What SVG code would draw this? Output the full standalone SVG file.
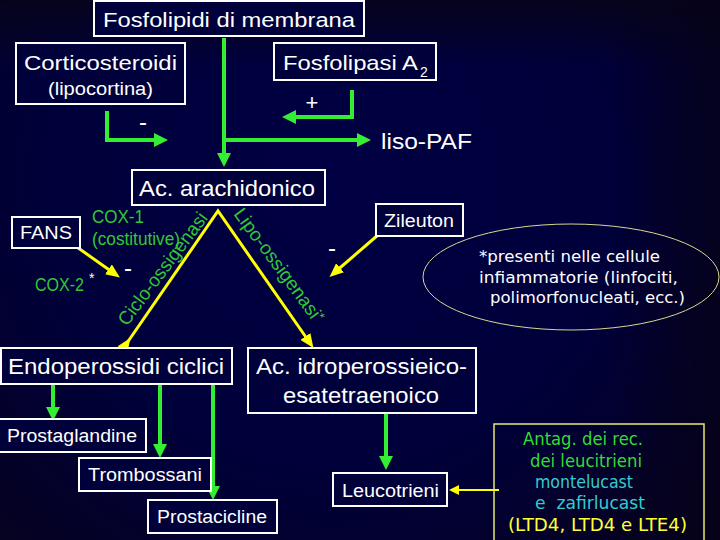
<svg xmlns="http://www.w3.org/2000/svg" width="720" height="540" viewBox="0 0 720 540">
<defs>
<radialGradient id="bg" cx="330" cy="180" r="520" gradientUnits="userSpaceOnUse">
<stop offset="0" stop-color="#000044"/>
<stop offset="0.55" stop-color="#00003a"/>
<stop offset="1" stop-color="#07021c"/>
</radialGradient>
<linearGradient id="topband" x1="0" y1="0" x2="0" y2="1">
<stop offset="0" stop-color="#06041a" stop-opacity="0.9"/>
<stop offset="0.06" stop-color="#06041a" stop-opacity="0.5"/>
<stop offset="0.12" stop-color="#06041a" stop-opacity="0"/>
<stop offset="1" stop-color="#06041a" stop-opacity="0"/>
</linearGradient>
<linearGradient id="rightband" x1="0" y1="0" x2="1" y2="0">
<stop offset="0.85" stop-color="#050218" stop-opacity="0"/>
<stop offset="1" stop-color="#050218" stop-opacity="0.7"/>
</linearGradient>
<marker id="ga" markerUnits="userSpaceOnUse" markerWidth="14" markerHeight="14" refX="9" refY="7" orient="auto">
<path d="M0,0 L14,7 L0,14 z" fill="#33ee33"/>
</marker>
<marker id="ya" markerUnits="userSpaceOnUse" markerWidth="14" markerHeight="12" refX="8" refY="6" orient="auto">
<path d="M0,0 L14,6 L0,12 z" fill="#ffff00"/>
</marker>
<marker id="ya2" markerUnits="userSpaceOnUse" markerWidth="10" markerHeight="10" refX="6" refY="5" orient="auto">
<path d="M0,0 L10,5 L0,10 z" fill="#ffff00"/>
</marker>
<style>
.box{fill:#00003a;stroke:#ffffff;stroke-width:2}
.t{font-family:"Liberation Sans",Arial,sans-serif;fill:#ffffff}
.c{font-family:"Comic Sans MS","DejaVu Sans",sans-serif}
.g{stroke:#33ee33;stroke-width:4;fill:none}
.y{stroke:#ffff00;stroke-width:3;fill:none}
.gt{font-family:"Liberation Sans",Arial,sans-serif;fill:#33c833}
</style>
</defs>
<rect width="720" height="540" fill="url(#bg)"/>
<rect width="720" height="540" fill="url(#topband)"/>
<rect width="720" height="540" fill="url(#rightband)"/>

<g id="connectors">
<line class="g" x1="224" y1="38" x2="224" y2="162" marker-end="url(#ga)"/>
<line class="g" x1="224" y1="140" x2="366" y2="140" marker-end="url(#ga)"/>
<polyline class="g" points="107,111 107,140 163,140" marker-end="url(#ga)"/>
<polyline class="g" points="352,90 352,117 287,117" marker-end="url(#ga)"/>
<polyline class="y" points="127,343 218,211 310,343" marker-start="url(#ya)" marker-end="url(#ya)"/>
<line class="y" x1="74" y1="245" x2="115" y2="274" marker-end="url(#ya)"/>
<line class="y" x1="378" y1="235" x2="334" y2="273" marker-end="url(#ya)"/>
<line x1="499" y1="490" x2="453" y2="490" stroke="#ffff00" stroke-width="2" marker-end="url(#ya2)"/>
<line class="g" x1="53" y1="384" x2="53" y2="416" marker-end="url(#ga)"/>
<line class="g" x1="160" y1="384" x2="160" y2="453" marker-end="url(#ga)"/>
<line class="g" x1="213" y1="384" x2="213" y2="495" marker-end="url(#ga)"/>
<line class="g" x1="386" y1="413" x2="386" y2="465" marker-end="url(#ga)"/>
</g>

<g id="fosfolipidi">
<rect class="box" x="94" y="1" width="270" height="35"/>
<text class="t" x="103" y="27" font-size="20" textLength="252" lengthAdjust="spacingAndGlyphs">Fosfolipidi di membrana</text>
</g>
<g id="corticosteroidi">
<rect class="box" x="16" y="43" width="169" height="61"/>
<text class="t" x="24" y="70" font-size="21" textLength="153" lengthAdjust="spacingAndGlyphs">Corticosteroidi</text>
<text class="t" x="48" y="95" font-size="18" textLength="105" lengthAdjust="spacingAndGlyphs">(lipocortina)</text>
</g>
<g id="fosfolipasi">
<rect class="box" x="274" y="43" width="162" height="37"/>
<text class="t" x="283" y="70" font-size="21" textLength="135" lengthAdjust="spacingAndGlyphs">Fosfolipasi A</text>
<text class="t" x="420" y="77" font-size="14">2</text>
</g>
<g id="lisopaf">
<text class="t" x="381" y="149" font-size="22" textLength="91" lengthAdjust="spacingAndGlyphs">liso-PAF</text>
</g>
<g id="signs">
<text class="t" x="312" y="110" font-size="22" text-anchor="middle">+</text>
<text class="t" x="143" y="130" font-size="24" text-anchor="middle">-</text>
<text class="t" x="128" y="276" font-size="24" text-anchor="middle">-</text>
<text class="t" x="332" y="256" font-size="24" text-anchor="middle">-</text>
</g>
<g id="arachidonico">
<rect class="box" x="132" y="170" width="193" height="35"/>
<text class="t" x="139" y="196" font-size="22" textLength="176" lengthAdjust="spacingAndGlyphs">Ac. arachidonico</text>
</g>
<g id="fans">
<rect class="box" x="12" y="217" width="68" height="31"/>
<text class="t" x="20" y="239" font-size="19" textLength="52" lengthAdjust="spacingAndGlyphs">FANS</text>
</g>
<g id="cox">
<text class="gt" x="92" y="223" font-size="18" textLength="52" lengthAdjust="spacingAndGlyphs">COX-1</text>
<text class="gt" x="92" y="245" font-size="18" textLength="88" lengthAdjust="spacingAndGlyphs">(costitutive)</text>
<text class="gt" x="35" y="291" font-size="18" textLength="49" lengthAdjust="spacingAndGlyphs">COX-2</text>
<text class="t" x="89" y="283" font-size="14">*</text>
</g>
<g id="enzimi">
<text class="gt" x="127" y="327" font-size="19" textLength="136" lengthAdjust="spacingAndGlyphs" transform="rotate(-53.2 127 327)">Ciclo-ossigenasi</text>
<text class="gt" x="233" y="214" font-size="19" transform="rotate(53.5 233 214)">Lipo-ossigenasi<tspan font-size="13" dy="-5">*</tspan></text>
</g>
<g id="zileuton">
<rect class="box" x="376" y="204" width="87" height="32"/>
<text class="t" x="384" y="227" font-size="18" textLength="70" lengthAdjust="spacingAndGlyphs">Zileuton</text>
</g>
<g id="nota">
<ellipse cx="571" cy="277" rx="148" ry="53" fill="none" stroke="#d8d890" stroke-width="1"/>
<text class="t c" x="479" y="262" font-size="16" textLength="181" lengthAdjust="spacingAndGlyphs">*presenti nelle cellule</text>
<text class="t c" x="479" y="283" font-size="16" textLength="199" lengthAdjust="spacingAndGlyphs">infiammatorie (linfociti,</text>
<text class="t c" x="490" y="303" font-size="16" textLength="195" lengthAdjust="spacingAndGlyphs">polimorfonucleati, ecc.)</text>
</g>
<g id="endoperossidi">
<rect class="box" x="1" y="348" width="231" height="36"/>
<text class="t" x="8" y="374" font-size="22" textLength="216" lengthAdjust="spacingAndGlyphs">Endoperossidi ciclici</text>
</g>
<g id="idroperossieico">
<rect class="box" x="248" y="348" width="228" height="65"/>
<text class="t" x="256" y="374" font-size="22" textLength="211" lengthAdjust="spacingAndGlyphs">Ac. idroperossieico-</text>
<text class="t" x="283" y="403" font-size="22" textLength="156" lengthAdjust="spacingAndGlyphs">esatetraenoico</text>
</g>
<g id="prostaglandine">
<rect class="box" x="-2" y="419" width="148" height="33"/>
<text class="t" x="7" y="442" font-size="18" textLength="130" lengthAdjust="spacingAndGlyphs">Prostaglandine</text>
</g>
<g id="trombossani">
<rect class="box" x="79" y="458" width="132" height="33"/>
<text class="t" x="88" y="481" font-size="18" textLength="114" lengthAdjust="spacingAndGlyphs">Trombossani</text>
</g>
<g id="prostacicline">
<rect class="box" x="148" y="500" width="129" height="33"/>
<text class="t" x="157" y="523" font-size="18" textLength="110" lengthAdjust="spacingAndGlyphs">Prostacicline</text>
</g>
<g id="leucotrieni">
<rect class="box" x="333" y="473" width="114" height="33"/>
<text class="t" x="342" y="497" font-size="18" textLength="97" lengthAdjust="spacingAndGlyphs">Leucotrieni</text>
</g>
<g id="antagonisti">
<rect x="494" y="424" width="210" height="130" fill="none" stroke="#e8e870" stroke-width="1.5"/>
<text class="c" x="523" y="445" font-size="17" fill="#33dd33" textLength="120" lengthAdjust="spacingAndGlyphs">Antag. dei rec.</text>
<text class="c" x="530" y="467" font-size="17" fill="#33dd33" textLength="112" lengthAdjust="spacingAndGlyphs">dei leucitrieni</text>
<text class="c" x="535" y="488" font-size="17" fill="#33cccc" textLength="98" lengthAdjust="spacingAndGlyphs">montelucast</text>
<text class="c" x="535" y="509" font-size="17" fill="#33cccc" textLength="110" lengthAdjust="spacingAndGlyphs" xml:space="preserve">e  zafirlucast</text>
<text class="c" x="508" y="531" font-size="18" fill="#ffff33" textLength="179" lengthAdjust="spacingAndGlyphs">(LTD4, LTD4 e LTE4)</text>
</g>
</svg>
